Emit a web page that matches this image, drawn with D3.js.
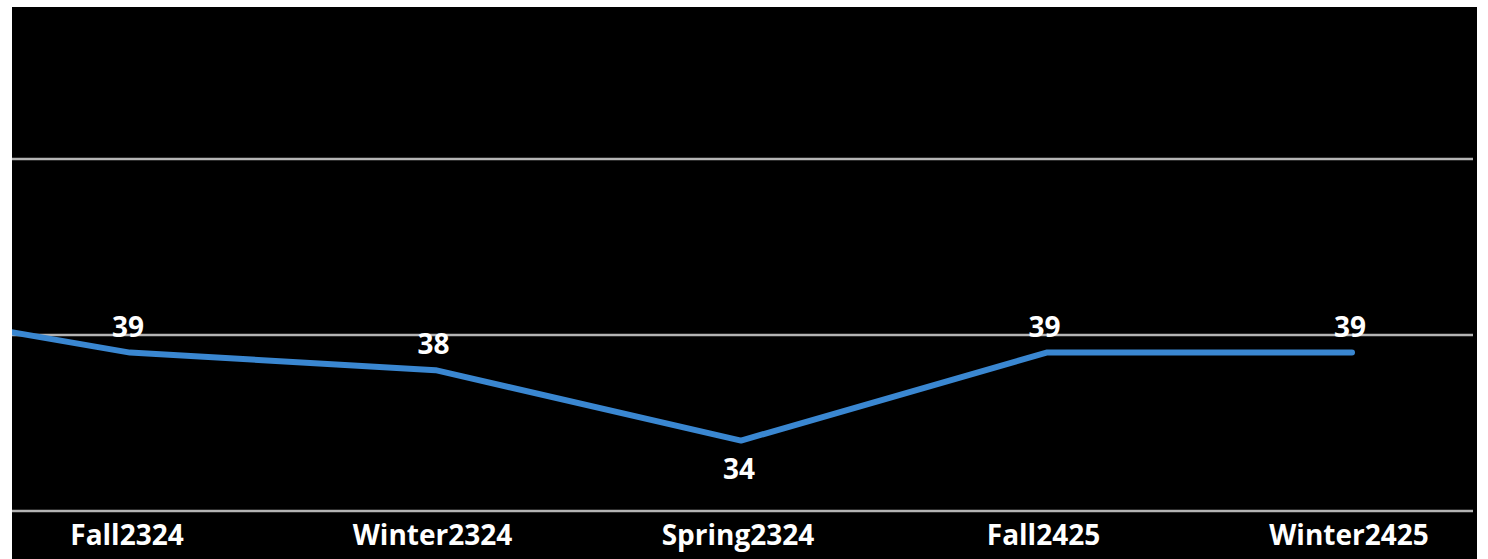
<!DOCTYPE html>
<html>
<head>
<meta charset="utf-8">
<script src="https://cdn.jsdelivr.net/npm/d3@7"></script>
<style>
  html, body { margin: 0; padding: 0; background: #fff; }
  svg { display: block; }
  text { font-family: "Open Sans", "Noto Sans", sans-serif; font-weight: 700; fill: #fff; }
</style>
</head>
<body>
<svg id="chart" width="1488" height="559"></svg>
<script>
// first term is scrolled off to the left, only its line segment shows
const terms  = ["Spring2223", "Fall2324", "Winter2324", "Spring2324", "Fall2425", "Winter2425"];
const values = [42, 39, 38, 34, 39, 39];
const gridTicks = [30, 40, 50];

(function () {
    const svg = d3.select("#chart");
    const W = 1488, H = 559;
    const panel = { left: 12, top: 7, right: 1477 };

    svg.append("rect")
        .attr("x", panel.left).attr("y", panel.top)
        .attr("width", panel.right - panel.left).attr("height", H - panel.top)
        .attr("fill", "#000");

    svg.append("clipPath").attr("id", "clip")
        .append("rect")
        .attr("x", panel.left).attr("y", panel.top)
        .attr("width", panel.right - panel.left).attr("height", H - panel.top);

    const x = d3.scalePoint().domain(terms).range([-175.5, 1352]);
    const y = d3.scaleLinear().domain([30, 50]).range([511, 159]);

    // gridlines
    svg.append("g")
        .selectAll("line")
        .data(gridTicks)
        .join("line")
        .attr("x1", panel.left).attr("x2", 1473)
        .attr("y1", d => y(d)).attr("y2", d => y(d))
        .attr("stroke", "#b4b4b4")
        .attr("stroke-width", 2.5);

    const pts = terms.map((t, i) => ({ t, v: values[i], i }));

    const line = d3.line().x(d => x(d.t)).y(d => y(d.v));

    svg.append("path")
        .datum(pts)
        .attr("clip-path", "url(#clip)")
        .attr("d", line)
        .attr("fill", "none")
        .attr("stroke", "#3a87d1")
        .attr("stroke-width", 6)
        .attr("stroke-linejoin", "round")
        .attr("stroke-linecap", "round");

    const visible = pts.filter(d => x(d.t) > panel.left);

    // data labels: below the point when it is a local low
    svg.append("g")
        .selectAll("text")
        .data(visible)
        .join("text")
        .attr("x", d => x(d.t) - 2)
        .attr("y", d => {
            const low = d.i > 0 && d.i < values.length - 1 &&
                d.v < values[d.i - 1] && d.v < values[d.i + 1];
            return low ? y(d.v) + 38 : y(d.v) - 16;
        })
        .attr("text-anchor", "middle")
        .style("font-size", "28px")
        .text(d => d.v);

    // category axis labels
    svg.append("g")
        .selectAll("text")
        .data(visible)
        .join("text")
        .attr("x", d => x(d.t) - 3)
        .attr("y", 545)
        .attr("text-anchor", "middle")
        .style("font-size", "28px")
        .text(d => d.t);
})();
</script>
</body>
</html>
